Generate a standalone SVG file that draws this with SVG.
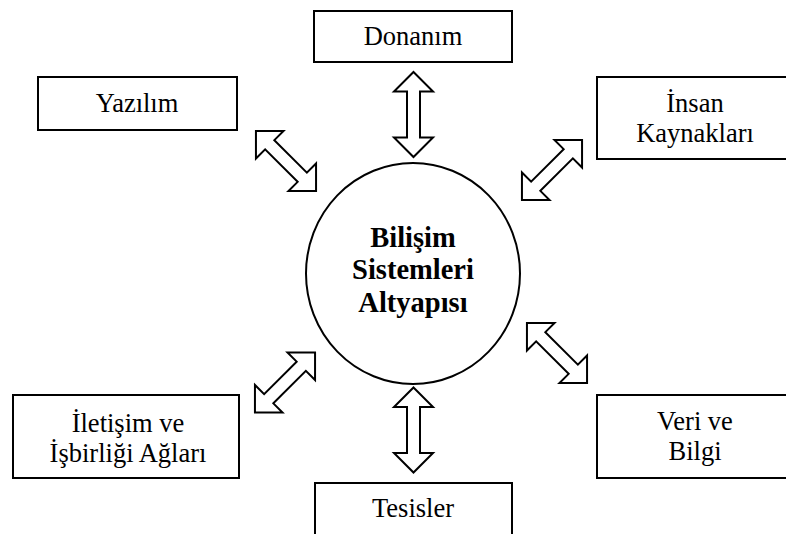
<svg xmlns="http://www.w3.org/2000/svg" width="786" height="534" viewBox="0 0 786 534">
<style>
.box{fill:#fff;stroke:#000;stroke-width:2}
.lbl{font-family:'Liberation Serif','DejaVu Serif',serif;font-size:26.5px;fill:#000;text-anchor:middle}
.ctr{font-family:'Liberation Serif','DejaVu Serif',serif;font-size:28.5px;font-weight:bold;fill:#000;text-anchor:middle}
.arr{fill:#fff;stroke:#000;stroke-width:2;stroke-linejoin:miter}
</style>
<defs>
<path id="dbl" d="M0,-42.5 L19.5,-23 L6.5,-23 L6.5,23 L19.5,23 L0,42.5 L-19.5,23 L-6.5,23 L-6.5,-23 L-19.5,-23 Z"/>
</defs>
<rect width="786" height="534" fill="#fff"/>
<g id="connectors">
<use href="#dbl" class="arr" transform="translate(413.5,114.5)"/>
<use href="#dbl" class="arr" transform="translate(413.5,430)"/>
<use href="#dbl" class="arr" transform="translate(286,161) rotate(-45)"/>
<use href="#dbl" class="arr" transform="translate(552,170) rotate(45)"/>
<use href="#dbl" class="arr" transform="translate(285,382.5) rotate(45)"/>
<use href="#dbl" class="arr" transform="translate(557,353) rotate(-45)"/>
</g>
<g id="center">
<ellipse cx="413" cy="273.5" rx="107" ry="110.5" fill="#fff" stroke="#000" stroke-width="2"/>
<text class="ctr" x="413" y="247">Bilişim</text>
<text class="ctr" x="413" y="279">Sistemleri</text>
<text class="ctr" x="413" y="312">Altyapısı</text>
</g>
<g id="donanim">
<rect class="box" x="314" y="11" width="198" height="51"/>
<text class="lbl" x="413" y="45">Donanım</text>
</g>
<g id="yazilim">
<rect class="box" x="38" y="77" width="199" height="53"/>
<text class="lbl" x="137" y="112">Yazılım</text>
</g>
<g id="insan">
<rect class="box" x="597" y="77" width="200" height="82"/>
<text class="lbl" x="695" y="112">İnsan</text>
<text class="lbl" x="695" y="142">Kaynakları</text>
</g>
<g id="iletisim">
<rect class="box" x="13" y="395" width="226" height="83"/>
<text class="lbl" x="128" y="432">İletişim ve</text>
<text class="lbl" x="128" y="462">İşbirliği Ağları</text>
</g>
<g id="veri">
<rect class="box" x="597" y="395" width="200" height="83"/>
<text class="lbl" x="695" y="430">Veri ve</text>
<text class="lbl" x="695" y="460">Bilgi</text>
</g>
<g id="tesisler">
<rect class="box" x="315" y="483" width="197" height="60"/>
<text class="lbl" x="413" y="517">Tesisler</text>
</g>
</svg>
